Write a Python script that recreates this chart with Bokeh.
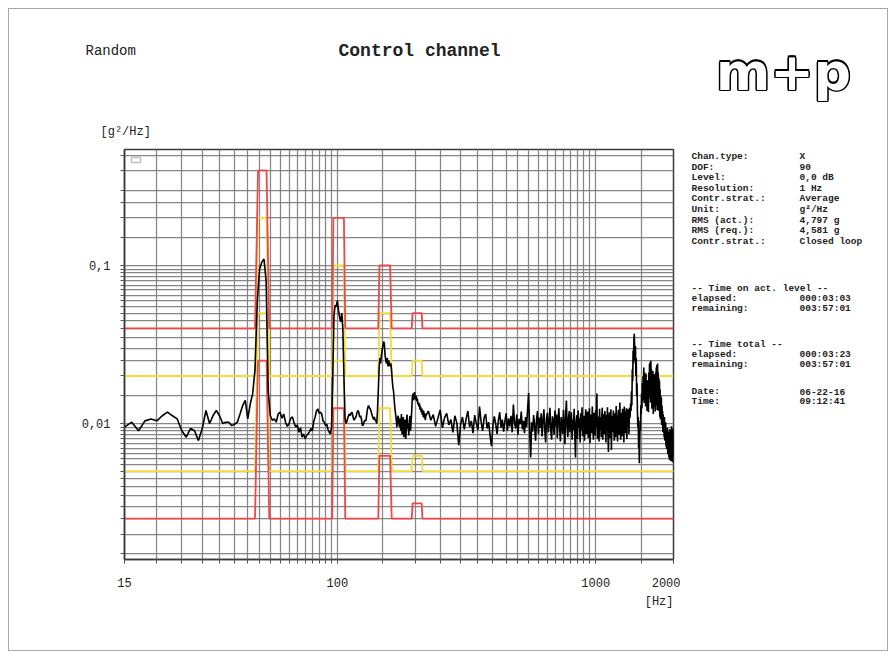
from bokeh.plotting import figure
from bokeh.models import FixedTicker, BoxAnnotation, Range1d, Title, InlineStyleSheet
from bokeh.layouts import column, row
from bokeh.core.properties import value
from bokeh.embed import file_html
from bokeh.resources import INLINE

# ---------------- data ----------------
# measured control PSD, 1 Hz resolution from 15 to 220 Hz (values in 1e-3 g^2/Hz)
LOW_F_START = 15
PSD_LOW = [
    9.5, 10.2, 9.0, 10.4, 10.7, 10.4, 11.2, 11.8, 11.2, 10.7,      # 15-24
    9.0, 8.2, 9.3, 9.0, 7.8, 9.3, 12.1, 10.0, 11.2, 12.1,          # 25-34
    11.2, 10.0, 10.2, 10.2, 9.7, 9.9, 10.2, 11.5, 13.0, 14.0,      # 35-44
    10.7, 13.3, 15.4, 22.0, 60.0, 95.0, 105.0, 110.0, 80.0, 16.0,  # 45-54
    11.2, 10.5, 10.7, 10.2, 11.5, 11.8, 10.8, 11.5, 10.2, 9.6,     # 55-64
    10.0, 10.8, 11.0, 10.1, 9.5, 9.8, 8.8, 9.4, 8.2, 8.6,          # 65-74
    8.0, 8.4, 8.6, 8.9, 9.3, 9.0, 10.3, 11.0, 12.0, 12.4,          # 75-84
    11.6, 11.8, 11.5, 10.4, 10.2, 9.7, 9.9, 9.2, 8.8, 8.6,         # 85-94
    9.5, 20.0, 48.0, 56.0, 55.0, 60.0, 52.0, 47.0, 44.0, 50.0,     # 95-104
    40.0, 20.0, 11.0, 10.0, 10.4, 11.0, 11.5, 11.2, 11.6, 11.8,    # 105-114
    11.0, 10.5, 10.8, 11.0, 11.6, 12.1, 11.8, 11.0, 11.2, 10.6,    # 115-124
    9.7, 9.8, 10.3, 10.5, 10.4, 11.5, 12.5, 13.0, 12.6, 12.4,      # 125-134
    12.0, 11.4, 11.0, 10.6, 11.0, 10.5, 10.4, 10.0, 12.0, 16.0,    # 135-144
    22.0, 26.0, 24.0, 27.0, 29.0, 31.0, 33.0, 32.0, 27.0, 25.0,    # 145-154
    24.0, 26.0, 23.0, 25.0, 24.0, 23.0, 24.0, 22.0, 19.0, 17.0,    # 155-164
    16.0, 14.0, 12.5, 11.5, 10.5, 9.5, 10.8, 11.2, 10.0, 9.5,      # 165-174
    10.8, 9.0, 11.5, 8.5, 10.2, 11.0, 8.2, 9.6, 10.6, 8.0,         # 175-184
    9.8, 11.4, 9.2, 10.0, 8.4, 10.5, 11.2, 9.0, 10.4, 12.0,        # 185-194
    14.5, 15.5, 14.0, 15.0, 15.8, 14.6, 14.2, 15.0, 13.8, 14.4,    # 195-204
    13.2, 13.6, 12.8, 13.4, 12.2, 12.8, 11.8, 12.5, 11.4, 12.2,    # 205-214
    11.0, 12.0, 10.8, 11.6, 10.5, 11.2,                            # 215-220
]
# measured control PSD, read every 5 Hz from 225 to 2000 Hz (values in 1e-3 g^2/Hz)
HIGH_F_START = 225
HIGH_F_STEP = 5
PSD_HIGH = [
    12.0, 10.5, 11.4, 9.6, 10.8, 12.2, 9.4, 10.9, 11.6, 9.8,
    10.6, 8.8, 11.2, 10.1, 7.3, 9.9, 11.0, 9.2, 10.7, 12.0,
    9.5, 10.4, 8.7, 11.3, 10.0, 9.1, 12.8, 10.3, 9.0, 10.9,
    11.5, 9.3, 10.2, 8.4, 7.2, 9.7, 11.1, 10.0, 8.6, 10.5,
    11.8, 9.4, 10.6, 8.9, 10.3, 11.6, 9.0, 10.8, 9.6, 11.2,
    8.8, 13.2, 10.1, 9.3, 11.4, 8.5, 10.7, 9.9, 11.9, 9.2,
    10.4, 8.7, 11.0, 9.5, 12.4, 15.6, 9.0, 6.1, 10.2, 8.9,
    11.3, 9.7, 7.8, 10.6, 12.0, 8.6, 10.9, 9.4, 11.6, 8.3,
    10.5, 12.3, 9.1, 7.6, 10.8, 11.7, 8.8, 10.2, 12.6, 9.0,
    7.9, 11.1, 10.4, 8.5, 12.1, 9.6, 11.4, 8.1, 10.7, 12.5,
    9.3, 7.7, 11.0, 10.1, 8.6, 12.2, 9.8, 7.4, 11.5, 14.0,
    9.5, 8.2, 10.9, 12.0, 8.8, 10.3, 11.8, 7.9, 10.6, 9.1,
    12.4, 8.5, 6.1, 10.2, 11.3, 8.0, 12.1, 9.4, 10.8, 7.6,
    11.6, 9.0, 12.7, 8.3, 10.5, 11.2, 7.8, 9.9, 12.3, 8.6,
    10.7, 11.9, 8.1, 9.6, 12.5, 7.5, 10.4, 11.4, 8.7, 12.8,
    9.2, 7.9, 11.7, 10.0, 8.4, 12.2, 9.5, 15.5, 8.0, 11.1,
    10.3, 7.7, 12.4, 9.1, 11.0, 8.2, 10.9, 12.6, 7.9, 9.8,
    11.5, 8.6, 12.0, 10.2, 7.6, 11.3, 9.0, 12.7, 8.4, 6.6,
    10.6, 11.8, 8.1, 9.7, 12.3, 6.8, 10.5, 11.2, 8.8, 12.1,
    9.3, 7.8, 11.6, 10.4, 8.2, 12.9, 9.6, 11.0, 7.7, 10.8,
    12.2, 8.5, 10.1, 13.6, 9.0, 7.9, 11.7, 10.6, 8.3, 12.4,
    9.4, 11.1, 7.6, 12.8, 10.0, 8.7, 11.9, 9.2, 12.5, 8.0,
    10.9, 12.3, 9.5, 11.4, 8.6, 12.6, 10.8, 11.5, 13.4, 12.0,
    16.0, 13.0, 22.0, 18.5, 29.0, 24.0, 34.0, 37.0, 30.0, 25.0,
    31.0, 20.0, 26.0, 15.0, 18.0, 12.0, 9.5, 11.0, 7.0, 8.5,
    5.6, 7.5, 10.4, 9.0, 13.0, 11.5, 15.5, 12.5, 18.0, 14.0,
    20.0, 15.5, 22.6, 13.5, 21.0, 16.0, 19.5, 12.8, 20.7, 15.0,
    17.5, 12.0, 18.8, 13.5, 16.0, 11.8, 21.0, 14.5, 23.9, 15.2,
    24.5, 13.6, 25.0, 16.5, 22.0, 12.4, 19.6, 14.0, 21.5, 11.5,
    18.0, 12.8, 20.5, 13.2, 17.0, 11.9, 21.0, 14.0, 22.6, 13.0,
    23.5, 12.2, 24.0, 15.5, 21.0, 12.0, 19.5, 13.3, 18.7, 11.0,
    16.5, 10.6, 15.0, 11.8, 14.6, 9.8, 13.0, 10.5, 12.0, 8.8,
    11.4, 9.0, 10.4, 8.2, 11.0, 7.8, 9.5, 8.6, 10.2, 7.2,
    9.0, 6.9, 8.5, 7.5, 9.4, 6.4, 8.2, 7.0, 8.9, 6.1,
    8.0, 5.9, 9.2, 6.6, 7.8, 5.8, 8.6, 6.3, 9.6, 6.0,
    7.4, 5.7, 8.8, 6.5, 9.3, 6.2,
]

# limit lines (g^2/Hz) at the profile break frequencies
PROF_F = [15, 48.0, 49.3, 53.2, 54.5, 95.5, 96.5, 106.0, 107.3,
          144.0, 145.5, 160.0, 162.3, 194.0, 195.5, 212.0, 213.5, 2000]
ABORT_HI = [0.04, 0.04, 0.4, 0.4, 0.04, 0.04, 0.2, 0.2, 0.04,
            0.04, 0.1, 0.1, 0.04, 0.04, 0.05, 0.05, 0.04, 0.04]
ALARM_HI = [0.02, 0.02, 0.2, 0.2, 0.02, 0.02, 0.1, 0.1, 0.02,
            0.02, 0.05, 0.05, 0.02, 0.02, 0.025, 0.025, 0.02, 0.02]
ALARM_LO = [0.005, 0.005, 0.05, 0.05, 0.005, 0.005, 0.025, 0.025, 0.005,
            0.005, 0.0125, 0.0125, 0.005, 0.005, 0.00625, 0.00625, 0.005, 0.005]
ABORT_LO = [0.0025, 0.0025, 0.025, 0.025, 0.0025, 0.0025, 0.0125, 0.0125, 0.0025,
            0.0025, 0.00625, 0.00625, 0.0025, 0.0025, 0.003125, 0.003125, 0.0025, 0.0025]

X_RANGE = (15, 2000)
Y_RANGE = (0.00138, 0.542)
X_TICKS = [15, 100, 1000, 2000]
X_TICK_LABELS = ["15", "100", "1000", "2000"]
Y_TICKS = [0.01, 0.1]
Y_TICK_LABELS = ["0,01", "0,1"]

INFO_LEFT = ["Chan.type:", "DOF:", "Level:", "Resolution:", "Contr.strat.:", "Unit:",
             "RMS (act.):", "RMS (req.):", "Contr.strat.:"]
INFO_RIGHT = ["X", "90", "0,0 dB", "1 Hz", "Average", "g\u00b2/Hz",
              "4,797 g", "4,581 g", "Closed loop"]
TIME_ACT = [("-- Time on act. level --", ""), ("elapsed:", "000:03:03"), ("remaining:", "003:57:01")]
TIME_TOT = [("-- Time total --", ""), ("elapsed:", "000:03:23"), ("remaining:", "003:57:01")]
DATE_TIME = [("Date:", "06-22-16"), ("Time:", "09:12:41")]

# grid lines (1-2-5 style subdivision of each decade)
X_GRID = [5 * k for k in range(3, 21)] + [50 * k for k in range(3, 21)] + [1500, 2000]
Y_GRID = ([round(0.0005 * k, 5) for k in range(3, 21)]
          + [round(0.005 * k, 4) for k in range(3, 21)]
          + [0.15, 0.2, 0.25, 0.3, 0.4, 0.5])

# ---------------- build series ----------------
freq = [LOW_F_START + i for i in range(len(PSD_LOW))] + \
       [HIGH_F_START + HIGH_F_STEP * i for i in range(len(PSD_HIGH))]
psd = [v * 1e-3 for v in PSD_LOW + PSD_HIGH]

MONO = "Liberation Mono"
INK = "#222222"
PAGE_W, PAGE_H = 896, 659
TOP_H = 141                        # height of the header strip
MAIN_W = 680                       # width of the chart figure
FRAME_L, FRAME_R, FRAME_T, FRAME_B = 124, 673, 149, 559   # chart frame, page px


def blank_fig(w, h, x0, x1, y0, y1, **kw):
    f = figure(width=w, height=h, x_range=Range1d(x0, x1), y_range=Range1d(y1, y0),
               output_backend="svg", toolbar_location=None, title=None,
               outline_line_color=None, **kw)
    f.axis.visible = False
    f.grid.visible = False
    f.background_fill_color = "white"
    f.border_fill_color = "white"
    return f


def put(fig, xs, ys, texts, size, align="left", bold=False, color=INK,
        font=MONO, baseline="middle", **kw):
    fig.text(x=xs, y=ys, text=texts, text_font=value(font),
             text_font_size=f"{size}px",
             text_font_style="bold" if bold else "normal",
             text_align=align, text_baseline=baseline, text_color=color, **kw)


# ---------------- header strip (page coords) ----------------
top = blank_fig(PAGE_W, TOP_H, 0, PAGE_W, 0, TOP_H, min_border=0)
put(top, [85], [50], ["Random"], 14)
put(top, [419], [50], ["Control channel"], 18, align="center", bold=True)
put(top, [100], [131], ["[g\u00b2/Hz]"], 12)
# logo: white letters with a heavy black contour
for dx, dy in ((-1.5, 0), (1.5, 0), (0, -1.5), (0, 1.5),
               (-1.1, -1.1), (1.1, -1.1), (-1.1, 1.1), (1.1, 1.1)):
    put(top, [783], [71], ["m+p"], 52, align="center", bold=True, font="DejaVu Sans",
        baseline="alphabetic", color="black", x_offset=dx, y_offset=dy)
put(top, [783], [71], ["m+p"], 52, align="center", bold=True, font="DejaVu Sans",
    baseline="alphabetic", color="white")

# ---------------- chart ----------------
p = figure(width=MAIN_W, height=PAGE_H - TOP_H, x_axis_type="log", y_axis_type="log",
           x_range=X_RANGE, y_range=Y_RANGE, output_backend="svg",
           toolbar_location=None, title=None,
           min_border_left=FRAME_L, min_border_right=MAIN_W - FRAME_R,
           min_border_top=FRAME_T - TOP_H, min_border_bottom=PAGE_H - FRAME_B)
p.background_fill_color = "white"
p.border_fill_color = "white"
p.outline_line_color = "#3a3a3a"
p.outline_line_width = 1.5

p.xaxis.ticker = FixedTicker(ticks=X_TICKS, minor_ticks=X_GRID)
p.xaxis.major_label_overrides = dict(zip(X_TICKS, X_TICK_LABELS))
p.yaxis.ticker = FixedTicker(ticks=Y_TICKS, minor_ticks=Y_GRID)
p.yaxis.major_label_overrides = dict(zip(Y_TICKS, Y_TICK_LABELS))
p.xaxis.major_label_standoff = 14
p.yaxis.major_label_standoff = 10
for ax in (p.xaxis, p.yaxis):
    ax.major_label_text_font = MONO
    ax.major_label_text_font_size = "12px"
    ax.major_label_text_color = INK
    ax.major_tick_out = 4
    ax.major_tick_in = 0
    ax.minor_tick_out = 4
    ax.minor_tick_in = 0
    ax.major_tick_line_color = "#555555"
    ax.minor_tick_line_color = "#555555"
    ax.axis_line_color = "#3a3a3a"
    ax.axis_line_width = 1.5
p.yaxis.major_label_orientation = "horizontal"
p.add_layout(Title(text="[Hz]", align="right", text_font=MONO, text_font_size="12px",
                   text_font_style="normal", text_color=INK, standoff=6), "below")

p.xgrid.ticker = FixedTicker(ticks=X_GRID)
p.ygrid.ticker = FixedTicker(ticks=Y_GRID)
for g in (p.xgrid, p.ygrid):
    g.grid_line_color = "#7a7a7a"
    g.grid_line_width = 1.25
    g.grid_line_alpha = 0.9

RED = "#ee4848"
YEL = "#f6da3a"
p.line(PROF_F, ALARM_HI, line_color=YEL, line_width=1.8)
p.line(PROF_F, ALARM_LO, line_color=YEL, line_width=1.8)
p.line(PROF_F, ABORT_HI, line_color=RED, line_width=1.8)
p.line(PROF_F, ABORT_LO, line_color=RED, line_width=1.8)
p.line(freq, psd, line_color="black", line_width=1.6)

# small indicator box in the top-left corner of the frame
p.add_layout(BoxAnnotation(left=7, right=16, bottom=397, top=402,
                           left_units="screen", right_units="screen",
                           top_units="screen", bottom_units="screen",
                           fill_color="white", fill_alpha=1,
                           line_color="#333333", line_width=1.5))

# ---------------- info panel (page coords, frame aligned with the chart) ----------------
side = blank_fig(PAGE_W - MAIN_W, PAGE_H - TOP_H, MAIN_W, PAGE_W, FRAME_T, FRAME_B,
                 min_border_left=0, min_border_right=0,
                 min_border_top=FRAME_T - TOP_H, min_border_bottom=PAGE_H - FRAME_B)
LX, VX, FS = 691, 799, 9.5
rows_l, rows_r, ys_l, ys_r = [], [], [], []
for i, (a, b) in enumerate(zip(INFO_LEFT, INFO_RIGHT)):
    rows_l.append(a); ys_l.append(156 + 10.6 * i)
    rows_r.append(b); ys_r.append(156 + 10.6 * i)
for block, Y0 in ((TIME_ACT, 288), (TIME_TOT, 344), (DATE_TIME, 391)):
    for i, (a, b) in enumerate(block):
        rows_l.append(a); ys_l.append(Y0 + 9.8 * i)
        if b:
            rows_r.append(b); ys_r.append(Y0 + 9.8 * i)
put(side, [LX] * len(rows_l), ys_l, rows_l, FS, bold=True)
put(side, [VX] * len(rows_r), ys_r, rows_r, FS, bold=True)

layout = column(top, row(p, side, spacing=0), spacing=0)
layout.stylesheets = [InlineStyleSheet(css="""
:host { position: relative; }
:host::after {
  content: ""; position: absolute; left: 8px; top: 8px; right: 8px; bottom: 8px;
  border: 1px solid #a8a8a8; pointer-events: none; z-index: 50;
}
""")]
open("out.html", "w").write(file_html(layout, INLINE))
